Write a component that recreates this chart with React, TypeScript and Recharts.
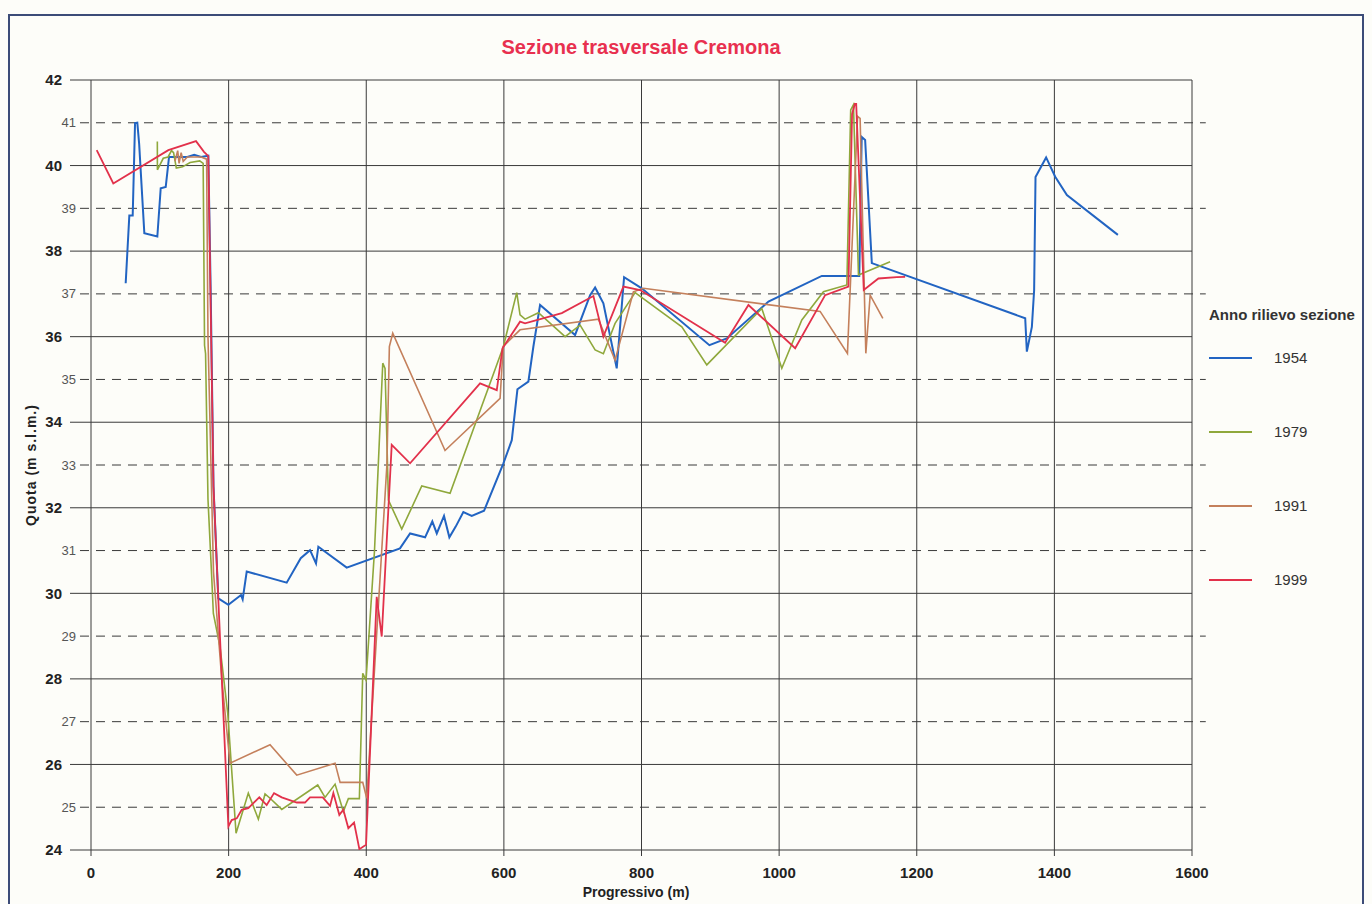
import React from 'react';
import { LineChart, Line, XAxis, YAxis, CartesianGrid, ReferenceLine } from 'recharts';

const X_TICKS = [0, 200, 400, 600, 800, 1000, 1200, 1400, 1600];
const Y_TICKS = [24, 25, 26, 27, 28, 29, 30, 31, 32, 33, 34, 35, 36, 37, 38, 39, 40, 41, 42];
const Y_EVEN = Y_TICKS.filter((v) => v % 2 === 0);
const Y_ODD = Y_TICKS.filter((v) => v % 2 !== 0);

const s1954 = [
  { x: 50.4, y: 37.25 }, { x: 55.7, y: 38.83 }, { x: 60.6, y: 38.83 }, { x: 64, y: 40.99 }, { x: 67.3, y: 41.0 },
  { x: 70, y: 40.5 }, { x: 77.5, y: 38.42 }, { x: 96.4, y: 38.34 }, { x: 101.3, y: 39.47 }, { x: 108.6, y: 39.5 },
  { x: 113.4, y: 40.2 }, { x: 140, y: 40.2 }, { x: 150, y: 40.25 }, { x: 160, y: 40.2 }, { x: 170.5, y: 40.23 },
  { x: 174, y: 37 }, { x: 178, y: 32.5 }, { x: 185, y: 29.88 }, { x: 199.6, y: 29.73 }, { x: 218, y: 29.96 },
  { x: 220.4, y: 29.86 }, { x: 226.3, y: 30.51 }, { x: 284.4, y: 30.25 }, { x: 304.8, y: 30.82 }, { x: 318.3, y: 31.01 },
  { x: 327, y: 30.7 }, { x: 330.4, y: 31.09 }, { x: 371.6, y: 30.6 }, { x: 449, y: 31.05 }, { x: 463.7, y: 31.4 },
  { x: 485.5, y: 31.31 }, { x: 496, y: 31.68 }, { x: 502.5, y: 31.4 }, { x: 513, y: 31.81 }, { x: 520.8, y: 31.31 },
  { x: 530, y: 31.56 }, { x: 541.1, y: 31.9 }, { x: 553.3, y: 31.81 }, { x: 571.2, y: 31.93 }, { x: 599.3, y: 33.04 },
  { x: 611.5, y: 33.58 }, { x: 619.7, y: 34.77 }, { x: 635.6, y: 34.95 }, { x: 642.9, y: 35.77 }, { x: 652.6, y: 36.74 },
  { x: 703.5, y: 36.04 }, { x: 725.3, y: 36.97 }, { x: 732.6, y: 37.15 }, { x: 744.6, y: 36.78 }, { x: 764, y: 35.26 },
  { x: 774.7, y: 37.39 }, { x: 800.4, y: 37.13 }, { x: 898.7, y: 35.8 }, { x: 924, y: 35.96 }, { x: 984.5, y: 36.82 },
  { x: 1062, y: 37.42 }, { x: 1116.5, y: 37.42 }, { x: 1120, y: 40.67 }, { x: 1125, y: 40.6 }, { x: 1134.7, y: 37.72 },
  { x: 1357.6, y: 36.43 }, { x: 1360, y: 35.65 }, { x: 1367.3, y: 36.23 }, { x: 1370.6, y: 37.09 }, { x: 1372.6, y: 39.73 },
  { x: 1388, y: 40.19 }, { x: 1401.2, y: 39.74 }, { x: 1418.2, y: 39.31 }, { x: 1492.3, y: 38.38 },
];

const s1979 = [
  { x: 96.4, y: 40.56 }, { x: 96.5, y: 39.9 }, { x: 105, y: 40.17 }, { x: 112, y: 40.2 }, { x: 117, y: 40.35 },
  { x: 120, y: 40.3 }, { x: 124, y: 39.94 }, { x: 133, y: 39.97 }, { x: 144, y: 40.07 }, { x: 158, y: 40.11 },
  { x: 163, y: 40.05 }, { x: 165, y: 35.8 }, { x: 166.5, y: 35.6 }, { x: 170, y: 32.2 }, { x: 175.4, y: 30.39 },
  { x: 177.8, y: 29.53 }, { x: 187.5, y: 28.75 }, { x: 198.7, y: 27.2 }, { x: 210.8, y: 24.39 }, { x: 228.6, y: 25.33 },
  { x: 243.2, y: 24.72 }, { x: 252.9, y: 25.31 }, { x: 260.2, y: 25.21 }, { x: 277.2, y: 24.95 }, { x: 329.5, y: 25.52 },
  { x: 340.1, y: 25.23 }, { x: 354.7, y: 25.54 }, { x: 366.7, y: 24.9 }, { x: 374, y: 25.2 }, { x: 390, y: 25.2 },
  { x: 394.9, y: 28.13 }, { x: 399.7, y: 27.97 }, { x: 412, y: 31 }, { x: 424, y: 35.38 }, { x: 427.3, y: 35.26 },
  { x: 432.2, y: 32.18 }, { x: 451.6, y: 31.5 }, { x: 480.7, y: 32.51 }, { x: 521.8, y: 32.34 }, { x: 599.3, y: 35.77 },
  { x: 618.7, y: 37.03 }, { x: 623.5, y: 36.51 }, { x: 630.8, y: 36.41 }, { x: 650.2, y: 36.56 }, { x: 689, y: 36.0 },
  { x: 710.8, y: 36.27 }, { x: 732.6, y: 35.69 }, { x: 744.6, y: 35.6 }, { x: 761.6, y: 36.31 }, { x: 790.7, y: 37.03 },
  { x: 858.6, y: 36.23 }, { x: 894.9, y: 35.34 }, { x: 974.8, y: 36.66 }, { x: 1003.9, y: 35.26 }, { x: 1033, y: 36.39 },
  { x: 1064.4, y: 37.05 }, { x: 1098.4, y: 37.21 }, { x: 1104, y: 41.3 }, { x: 1108, y: 41.42 }, { x: 1115.3, y: 37.44 },
  { x: 1161.3, y: 37.75 },
];

const s1991 = [
  { x: 122, y: 40.1 }, { x: 126, y: 40.35 }, { x: 128, y: 40.05 }, { x: 131, y: 40.3 }, { x: 134, y: 40.1 },
  { x: 140, y: 40.2 }, { x: 160, y: 40.2 }, { x: 168, y: 40.15 }, { x: 170, y: 36 }, { x: 178, y: 30.5 },
  { x: 190, y: 28 }, { x: 202, y: 26.03 }, { x: 260.2, y: 26.46 }, { x: 299, y: 25.75 }, { x: 354.7, y: 26.03 },
  { x: 362, y: 25.58 }, { x: 394.9, y: 25.58 }, { x: 400.7, y: 25.21 }, { x: 430, y: 33 }, { x: 433.6, y: 35.77 },
  { x: 438.5, y: 36.08 }, { x: 514.5, y: 33.34 }, { x: 594.5, y: 34.56 }, { x: 599, y: 35.77 }, { x: 623.5, y: 36.16 },
  { x: 737.4, y: 36.41 }, { x: 761.6, y: 35.45 }, { x: 788.2, y: 37.05 }, { x: 802.8, y: 37.13 }, { x: 1059.6, y: 36.59 },
  { x: 1099.3, y: 35.61 }, { x: 1114, y: 41.15 }, { x: 1117.7, y: 41.1 }, { x: 1126, y: 35.61 }, { x: 1132.3, y: 36.97 },
  { x: 1150.7, y: 36.43 },
];

const s1999 = [
  { x: 8.3, y: 40.36 }, { x: 32.4, y: 39.58 }, { x: 112.4, y: 40.36 }, { x: 152.6, y: 40.57 }, { x: 164.2, y: 40.32 },
  { x: 170.5, y: 40.22 }, { x: 178, y: 32.5 }, { x: 186, y: 29.5 }, { x: 199.6, y: 24.55 }, { x: 204.5, y: 24.7 },
  { x: 211.8, y: 24.74 }, { x: 219, y: 24.94 }, { x: 228.6, y: 24.98 }, { x: 244.6, y: 25.23 }, { x: 255.3, y: 25.05 },
  { x: 266, y: 25.33 }, { x: 277.2, y: 25.23 }, { x: 299, y: 25.11 }, { x: 311, y: 25.11 }, { x: 318.3, y: 25.23 },
  { x: 336.8, y: 25.23 }, { x: 347.4, y: 25.03 }, { x: 352.2, y: 25.33 }, { x: 360.9, y: 24.82 }, { x: 366.7, y: 24.94 },
  { x: 374, y: 24.51 }, { x: 382.3, y: 24.64 }, { x: 390, y: 24.02 }, { x: 399.7, y: 24.12 }, { x: 415.2, y: 29.92 },
  { x: 422.5, y: 28.99 }, { x: 437, y: 33.47 }, { x: 463.7, y: 33.04 }, { x: 565.4, y: 34.91 }, { x: 589.7, y: 34.75 },
  { x: 598, y: 35.73 }, { x: 623.5, y: 36.35 }, { x: 630.8, y: 36.31 }, { x: 684.2, y: 36.55 }, { x: 730.1, y: 36.95 },
  { x: 744.6, y: 36.0 }, { x: 773.7, y: 37.17 }, { x: 798, y: 37.09 }, { x: 921.5, y: 35.86 }, { x: 955.4, y: 36.74 },
  { x: 1023.3, y: 35.73 }, { x: 1066.9, y: 36.97 }, { x: 1100.7, y: 37.17 }, { x: 1106, y: 41.2 }, { x: 1110, y: 41.44 },
  { x: 1112, y: 41.44 }, { x: 1123, y: 37.09 }, { x: 1144.3, y: 37.36 }, { x: 1171.1, y: 37.39 }, { x: 1183.1, y: 37.4 },
];

const SERIES = [
  { name: '1954', data: s1954, color: '#2264c2', width: 2 },
  { name: '1979', data: s1979, color: '#8fa83c', width: 1.6 },
  { name: '1991', data: s1991, color: '#c4805c', width: 1.6 },
  { name: '1999', data: s1999, color: '#e2314b', width: 1.8 },
];

const FONT = '"Liberation Sans", Arial, Helvetica, sans-serif';
const GRID = '#3a3a3a';

function YTick(props: any) {
  const { x, y, payload } = props;
  const v = payload.value;
  const even = v % 2 === 0;
  return (
    <g>
      {even ? <line x1={x - 21} x2={x} y1={y} y2={y} stroke={GRID} strokeWidth={1} /> : null}
      <text
        x={even ? x - 29 : x - 15}
        y={y}
        dy="0.35em"
        textAnchor="end"
        fontSize={even ? 15 : 13}
        fontWeight={even ? 700 : 400}
        fill={even ? '#222' : '#555'}
        fontFamily={FONT}
      >
        {v}
      </text>
    </g>
  );
}

export default function App() {
  return (
    <div style={{ position: 'fixed', left: 0, top: 0, width: 1372, height: 904, background: '#fdfdf9', fontFamily: FONT, overflow: 'hidden' }}>
      <div style={{ position: 'absolute', left: 8, top: 14, width: 1352, height: 900, borderLeft: '2px solid #3c4c78', borderTop: '2px solid #3c4c78', borderRight: '2px solid #3c4c78' }} />
      <div style={{ position: 'absolute', left: 0, width: 1282, top: 36, textAlign: 'center', color: '#e8304f', fontWeight: 700, fontSize: 20 }}>
        Sezione trasversale Cremona
      </div>
      <div style={{ position: 'absolute', left: 31, top: 465, transform: 'translate(-50%, -50%) rotate(-90deg)', whiteSpace: 'nowrap', fontWeight: 700, fontSize: 14, letterSpacing: 1, color: '#222' }}>
        Quota (m s.l.m.)
      </div>
      <div style={{ position: 'absolute', left: 0, width: 1272, top: 884, textAlign: 'center', fontWeight: 700, fontSize: 14, color: '#222' }}>
        Progressivo (m)
      </div>
      <div style={{ position: 'absolute', left: 1209, top: 306, fontWeight: 700, fontSize: 15, color: '#333', whiteSpace: 'nowrap' }}>
        Anno rilievo sezione
      </div>
      {SERIES.map((s, i) => (
        <div key={s.name} style={{ position: 'absolute', left: 1209, top: 349 + i * 74, height: 18, width: 150 }}>
          <div style={{ position: 'absolute', left: 0, top: 8, width: 43, height: 2, background: s.color }} />
          <div style={{ position: 'absolute', left: 65, top: 0, fontSize: 15, color: '#333' }}>{s.name}</div>
        </div>
      ))}
      <div style={{ position: 'absolute', left: 0, top: 0 }}>
        <LineChart width={1372} height={904} margin={{ top: 80, right: 180, bottom: 24, left: 51 }}>
          <CartesianGrid horizontalValues={Y_EVEN} verticalValues={X_TICKS} stroke={GRID} strokeWidth={1} />
          {Y_ODD.map((v) => (
            <ReferenceLine
              key={v}
              segment={[{ x: -16, y: v }, { x: 1620, y: v }]}
              stroke={GRID}
              strokeWidth={1}
              strokeDasharray="9 7"
              ifOverflow="visible"
            />
          ))}
          <XAxis
            type="number"
            dataKey="x"
            domain={[0, 1600]}
            ticks={X_TICKS}
            interval={0}
            height={30}
            axisLine={false}
            tickLine={{ stroke: GRID }}
            tickSize={6}
            tickMargin={11}
            tick={{ fontSize: 15, fontWeight: 700, fill: '#222', fontFamily: FONT }}
            allowDataOverflow
          />
          <YAxis
            type="number"
            domain={[24, 42]}
            ticks={Y_TICKS}
            interval={0}
            width={40}
            axisLine={false}
            tickLine={false}
            tickSize={0}
            tickMargin={0}
            tick={<YTick />}
            allowDataOverflow
          />
          {SERIES.map((s) => (
            <Line
              key={s.name}
              data={s.data}
              dataKey="y"
              name={s.name}
              type="linear"
              stroke={s.color}
              strokeWidth={s.width}
              dot={false}
              activeDot={false}
              isAnimationActive={false}
            />
          ))}
        </LineChart>
      </div>
    </div>
  );
}
